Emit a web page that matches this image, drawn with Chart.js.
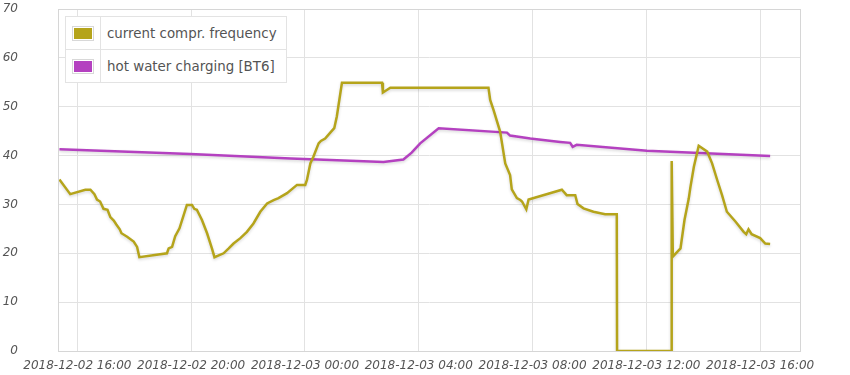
<!DOCTYPE html>
<html>
<head>
<meta charset="utf-8">
<script src="https://cdn.jsdelivr.net/npm/chart.js@4/dist/chart.umd.min.js"></script>
<style>
  html, body { margin: 0; padding: 0; background: #fff; }
  #wrap { position: relative; width: 850px; height: 375px; }
  #legend {
    position: absolute; left: 65px; top: 16px;
    border-collapse: collapse; background: #fff;
    font: 13.4px "DejaVu Sans", Verdana, sans-serif; color: #545454;
  }
  #legend td { border: 1px solid #e3e3e3; height: 32px; padding: 0; }
  #legend td.sw { width: 34px; text-align: center; }
  #legend td.lbl { padding: 0 9px 0 6px; white-space: nowrap; }
  .box { display: inline-block; border: 1px solid #d8d8d8; padding: 1px; vertical-align: middle; }
  .box div { width: 18px; height: 11px; }
</style>
</head>
<body>
<div id="wrap">
  <canvas id="chart" width="850" height="375"></canvas>
  <table id="legend"></table>
</div>
<script>
// hours counted from 2018-12-02 00:00
const xTickValues = [16, 20, 24, 28, 32, 36, 40];
const xTickLabels = [
  '2018-12-02 16:00', '2018-12-02 20:00', '2018-12-03 00:00', '2018-12-03 04:00',
  '2018-12-03 08:00', '2018-12-03 12:00', '2018-12-03 16:00'
];
const seriesNames = ['current compr. frequency', 'hot water charging [BT6]'];
const seriesColors = ['#b5a41b', '#b441c0'];

const freqHours = [
  15.37, 15.75, 16.28, 16.46, 16.60, 16.69, 16.80, 16.92, 17.06, 17.16, 17.28, 17.37,
  17.49, 17.55, 17.75, 17.98, 18.10, 18.18, 19.15, 19.21, 19.33, 19.44, 19.59, 19.85,
  20.03, 20.11, 20.20, 20.38, 20.56, 20.73, 20.82, 21.14, 21.32, 21.49, 21.73, 21.96,
  22.19, 22.43, 22.67, 22.90, 23.07, 23.37, 23.72, 24.01, 24.07, 24.19, 24.30, 24.48,
  24.56, 24.71, 24.89, 25.03, 25.12, 25.30, 26.71, 26.74, 27.00, 30.45, 30.51, 30.63,
  30.86, 31.04, 31.21, 31.27, 31.45, 31.57, 31.63, 31.78, 31.86, 33.03, 33.20, 33.50,
  33.58, 33.79, 34.14, 34.55, 34.96, 34.97, 36.89, 36.89, 36.93, 37.20, 37.34, 37.49,
  37.55, 37.67, 37.84, 38.14, 38.31, 38.49, 38.66, 38.83, 39.13, 39.42, 39.51, 39.59,
  39.70, 40.00, 40.18, 40.35
];
const freqValues = [
  35.1, 32.1, 33, 33, 32.1, 31, 30.6, 29.1, 28.9, 27.4, 26.7, 25.9,
  24.9, 24.1, 23.4, 22.4, 21.3, 19.2, 20, 21, 21.3, 23.5, 25.1, 29.9,
  29.9, 29.1, 28.9, 26.8, 24.1, 21, 19.2, 20, 21, 22, 23.1, 24.4,
  26.1, 28.5, 30.2, 30.9, 31.3, 32.3, 34, 34, 35, 38.4, 39.8, 42.5,
  43, 43.5, 44.7, 45.6, 48, 54.9, 54.9, 52.9, 53.9, 53.9, 51.4, 49.3,
  44.9, 38.4, 36, 33.1, 31.3, 30.9, 30.6, 29, 31, 33, 31.9, 31.9,
  30.1, 29.2, 28.5, 28, 28, 0, 0, 38.9, 19.3, 21, 26.8, 31.2,
  33.6, 37.7, 42, 40.8, 38.4, 35, 31.9, 28.5, 26.5, 24.4, 23.9, 24.9,
  23.9, 23.1, 22, 21.9
];

const bt6Hours = [15.37, 19.97, 23.5, 26.76, 27.46, 27.75, 28.05, 28.70, 31.10, 31.21, 31.92, 32.97, 33.32, 33.41, 33.55, 36.02, 40.35];
const bt6Values = [41.3, 40.3, 39.4, 38.7, 39.2, 40.6, 42.5, 45.6, 44.7, 44.1, 43.5, 42.8, 42.6, 41.8, 42.2, 41, 39.9];

const toPoints = (xs, ys) => xs.map((x, i) => ({ x: x, y: ys[i] }));

// soft shadow under the lines, flot style
const lineShadow = {
  id: 'lineShadow',
  beforeDatasetDraw(chart) {
    const ctx = chart.ctx;
    ctx.save();
    ctx.shadowColor = 'rgba(0,0,0,0.16)';
    ctx.shadowBlur = 3;
    ctx.shadowOffsetY = 1.5;
  },
  afterDatasetDraw(chart) {
    chart.ctx.restore();
  }
};

const plotBorder = {
  id: 'plotBorder',
  afterDraw(chart) {
    const { ctx, chartArea: a } = chart;
    ctx.save();
    ctx.strokeStyle = '#d6d6d6';
    ctx.lineWidth = 1;
    ctx.strokeRect(Math.round(a.left) + 0.5, Math.round(a.top) + 0.5,
      Math.round(a.right - a.left), Math.round(a.bottom - a.top));
    ctx.restore();
  }
};

const tickFont = { family: '"DejaVu Sans", Verdana, sans-serif', size: 12, style: 'italic' };

new Chart(document.getElementById('chart'), {
  type: 'line',
  data: {
    datasets: [
      {
        label: seriesNames[0],
        data: toPoints(freqHours, freqValues),
        borderColor: seriesColors[0],
        borderWidth: 2.5,
        pointRadius: 0,
        tension: 0
      },
      {
        label: seriesNames[1],
        data: toPoints(bt6Hours, bt6Values),
        borderColor: seriesColors[1],
        borderWidth: 2.5,
        pointRadius: 0,
        tension: 0
      }
    ]
  },
  options: {
    responsive: false,
    animation: false,
    layout: { padding: { top: 9, right: 50, left: 0, bottom: 0 } },
    plugins: {
      legend: { display: false },
      tooltip: { enabled: false }
    },
    scales: {
      x: {
        type: 'linear',
        min: 15.32,
        max: 41.40,
        afterBuildTicks: (scale) => { scale.ticks = xTickValues.map(v => ({ value: v })); },
        afterFit: (scale) => { scale.height = 24; },
        grid: { color: '#e2e2e2', drawTicks: false },
        border: { color: '#d6d6d6' },
        ticks: {
          padding: 8,
          maxRotation: 0,
          autoSkip: false,
          color: '#545454',
          font: tickFont,
          callback: (v, i) => xTickLabels[i]
        }
      },
      y: {
        min: 0,
        max: 70,
        afterFit: (scale) => {
          scale.width = 58;
          scale.paddingTop = 0;
          scale.paddingBottom = 0;
        },
        grid: { color: '#e2e2e2', drawTicks: false },
        border: { color: '#d6d6d6' },
        ticks: {
          stepSize: 10,
          padding: 40,
          color: '#545454',
          font: tickFont
        }
      }
    }
  },
  plugins: [lineShadow, plotBorder]
});

// legend table
const legend = document.getElementById('legend');
seriesNames.forEach((name, i) => {
  const tr = document.createElement('tr');
  tr.innerHTML = '<td class="sw"><span class="box"><div style="background:' + seriesColors[i] +
    '"></div></span></td><td class="lbl">' + name + '</td>';
  legend.appendChild(tr);
});
</script>
</body>
</html>
